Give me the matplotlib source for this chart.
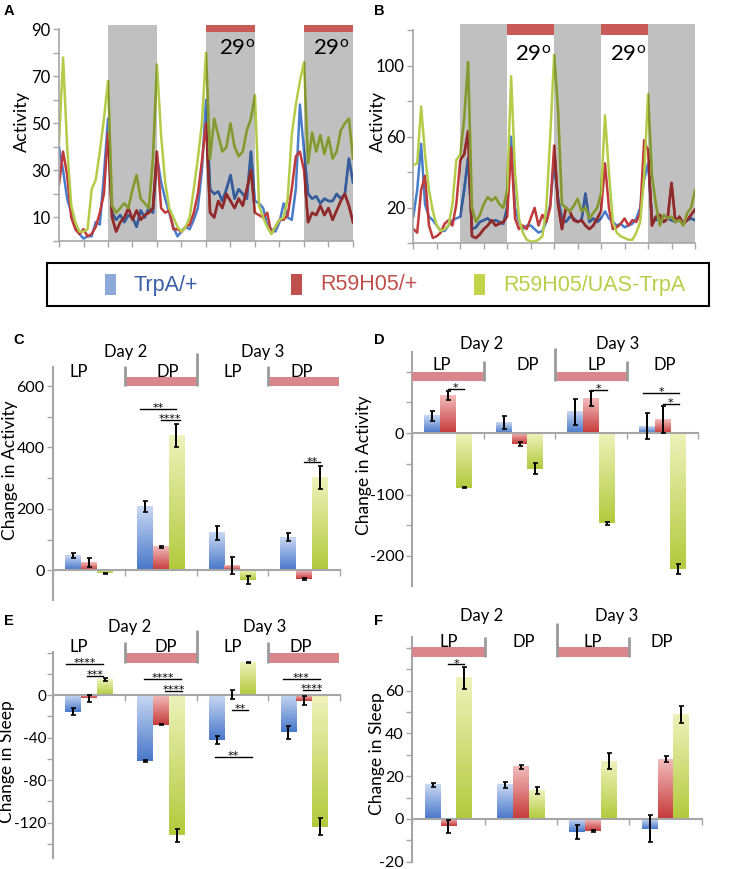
import numpy as np
import matplotlib
matplotlib.use('Agg')
import matplotlib.pyplot as plt
from matplotlib.colors import LinearSegmentedColormap, to_rgb
from matplotlib.patches import Rectangle

# ---------------- data ----------------
hours = list(range(73))

A_trpa = [40, 30, 18, 12, 6, 3, 1, 2, 2, 8, 7, 28, 52, 12, 9, 11, 8, 11, 10, 6, 13, 10, 14, 12,
          36, 25, 18, 12, 6, 2, 4, 6, 5, 9, 14, 30, 60,
          22, 20, 21, 17, 22, 28, 18, 22, 20, 18, 38, 17, 16, 14, 7, 5, 4, 8, 16, 10, 9, 22,
          58, 38, 20, 18, 19, 16, 18, 17, 17, 20, 18, 20, 35, 25]
A_r59 = [24, 38, 28, 10, 5, 3, 5, 2, 3, 6, 12, 20, 46, 10, 4, 8, 10, 14, 9, 13, 9, 11, 12, 14,
         38, 14, 12, 13, 5, 5, 4, 6, 7, 12, 20, 34, 50,
         12, 10, 17, 14, 20, 17, 14, 18, 15, 22, 30, 12, 11, 10, 12, 3, 6, 9, 9, 11, 22, 36,
         38, 30, 8, 12, 11, 15, 11, 14, 9, 13, 17, 20, 15, 8]
A_cross = [42, 78, 40, 15, 8, 4, 4, 5, 22, 26, 38, 52, 68, 15, 12, 14, 16, 14, 22, 28, 18, 16, 14, 35,
           75, 45, 25, 14, 10, 6, 4, 6, 10, 22, 35, 50, 80,
           35, 52, 45, 38, 40, 50, 40, 36, 38, 47, 52, 62, 15, 10, 6, 3, 6, 9, 10, 18, 45, 58,
           68, 76, 33, 46, 38, 45, 37, 44, 35, 38, 47, 50, 52, 35]

B_trpa = [15, 30, 56, 22, 15, 13, 10, 7, 7, 10, 13, 14, 15, 30, 48, 8, 9, 12, 13, 14, 12, 13, 12, 11,
          20, 60, 20, 12, 8, 10, 10, 8, 6, 7, 12, 22, 45,
          25, 14, 12, 15, 14, 12, 13, 28, 12, 14, 12, 14, 18, 14, 12, 10, 11, 9, 10, 11, 14, 20,
          36, 45, 14, 13, 14, 12, 14, 13, 12, 13, 12, 13, 14, 13]
B_r59 = [8, 6, 30, 38, 10, 3, 4, 6, 11, 13, 10, 22, 47, 50, 63, 4, 3, 5, 8, 10, 13, 10, 11, 12,
         15, 54, 14, 8, 10, 8, 14, 20, 10, 16, 12, 20, 55,
         22, 8, 20, 18, 13, 12, 13, 10, 8, 10, 14, 18, 45, 20, 8, 9, 11, 14, 10, 13, 12, 17,
         58, 52, 10, 15, 16, 12, 14, 34, 12, 15, 11, 13, 16, 19]
B_cross = [44, 45, 77, 50, 30, 18, 10, 7, 8, 10, 22, 47, 50, 70, 102, 20, 12, 16, 22, 26, 24, 26, 22, 20,
           30, 94, 40, 14, 6, 2, 1, 1, 2, 4, 20, 60, 106,
           75, 22, 20, 18, 21, 25, 18, 20, 14, 17, 20, 28, 72, 40, 12, 6, 4, 3, 2, 2, 6, 12,
           38, 84, 38, 22, 10, 16, 14, 15, 12, 13, 10, 17, 20, 30]

genotypes = ['TrpA/+', 'R59H05/+', 'R59H05/UAS-TrpA']
periods = ['Day 2 LP', 'Day 2 DP', 'Day 3 LP', 'Day 3 DP']

C_trpa = [47, 208, 121, 107];      C_trpa_err = [8, 18, 24, 13]
C_r59 = [26, 75, 16, -28];         C_r59_err = [15, 3, 27, 3]
C_cross = [-10, 438, -31, 302];    C_cross_err = [2, 38, 13, 39]

D_trpa = [28, 17, 35, 11];         D_trpa_err = [8, 11, 21, 21]
D_r59 = [61, -18, 56, 22];         D_r59_err = [7, 3, 12, 22]
D_cross = [-89, -58, -147, -221];  D_cross_err = [1, 9, 3, 8]

E_trpa = [-15.5, -62, -42, -35];   E_trpa_err = [3.5, 1, 4, 6]
E_r59 = [-3, -28, 0.5, -5];        E_r59_err = [3.3, 0.5, 4.3, 4]
E_cross = [14.5, -132, 31, -124];  E_cross_err = [1.5, 6, 0.5, 8]

F_trpa = [16, 16, -6, -4.5];       F_trpa_err = [1, 1.5, 3.4, 6.5]
F_r59 = [-3.4, 24.4, -5.6, 28];    F_r59_err = [3, 1, 0.5, 1.4]
F_cross = [66, 13.4, 27, 49];      F_cross_err = [5, 1.5, 3.7, 4]

# ---------------- style ----------------
plt.rcParams['font.family'] = ['Lato', 'DejaVu Sans']
plt.rcParams['mathtext.default'] = 'regular'

W, H = 739, 869
fig = plt.figure(figsize=(W / 100, H / 100), dpi=100)

AXG = '#a6a6a6'
SHADE = '#c0c0c0'
REDBAR = '#c85a58'
PINK = '#d9868d'
LINE_COLORS = ['#4a7ccc', '#bf3a3a', '#b4cc48']
GRAD = [('#c8d8f3', '#4877c9'), ('#f3bcbc', '#c63a3a'), ('#eef2bb', '#b2ca3c')]


def ax_at(x0, y0, x1, y1):
    return fig.add_axes([x0 / W, 1 - y1 / H, (x1 - x0) / W, (y1 - y0) / H])


def ftext(px, py, s, **kw):
    fig.text(px / W, 1 - py / H, s, **kw)


# ---------------- activity traces ----------------
def trace_panel(ax, series, ymax, spine_top, yticks, ylabels, red_spans, red_bottom,
                t29, t29_y):
    ax.set_xlim(0, 72)
    ax.set_ylim(0, ymax)
    gray = [(12, 24), (36, 48), (60, 72)]
    for a, b in gray:
        ax.axvspan(a, b, color=SHADE, lw=0, zorder=0)
    for a, b in red_spans:
        ax.axvspan(a, b, ymin=red_bottom / ymax, ymax=1, color=REDBAR, lw=0, zorder=1)
    for i, (vals, c) in enumerate(zip(series, LINE_COLORS)):
        ax.plot(hours, vals, color=c, lw=1.8, zorder=2 + i * 0.1, solid_joinstyle='round')
        dark = tuple(np.array(to_rgb(c)) * 0.74)
        for a, b in gray:
            ln, = ax.plot(hours, vals, color=dark, lw=1.8, zorder=2.05 + i * 0.1,
                          solid_joinstyle='round')
            clip = Rectangle((a, -50), b - a, 500, transform=ax.transData)
            ln.set_clip_path(clip)
    for xx in t29:
        ax.text(xx, t29_y, r'29$^{\mathregular{o}}$', ha='center', va='baseline',
                fontsize=16, zorder=5)
    for s in ['top', 'right']:
        ax.spines[s].set_visible(False)
    for s in ['left', 'bottom']:
        ax.spines[s].set_color(AXG)
        ax.spines[s].set_linewidth(1.2)
    ax.spines['left'].set_bounds(0, spine_top)
    ax.set_xticks(range(0, 73, 6))
    ax.set_xticklabels([])
    ax.set_yticks(yticks)
    ax.set_yticklabels([str(t) if t in ylabels else '' for t in yticks])
    ax.tick_params(axis='both', colors=AXG, length=4, width=1)
    ax.tick_params(axis='y', labelcolor='black', labelsize=12, pad=2)


axA = ax_at(59, 25, 353, 241)
trace_panel(axA, [A_trpa, A_r59, A_cross], 91.8, 90, list(range(0, 91, 10)),
            [10, 30, 50, 70, 90], [(36, 48), (60, 72)], 88.9, [43.5, 66.6], 79)
axB = ax_at(413.3, 24, 695, 243.3)
trace_panel(axB, [B_trpa, B_r59, B_cross], 123.4, 120, list(range(0, 121, 20)),
            [20, 60, 100], [(24, 36), (48, 60)], 117.2, [30.6, 54.9], 103)
ftext(22, 121, 'Activity', rotation=90, ha='center', va='center', fontsize=13)
ftext(378, 121, 'Activity', rotation=90, ha='center', va='center', fontsize=13)

# ---------------- legend ----------------
fig.patches.append(Rectangle((47 / W, 1 - 306 / H), 662 / W, 43 / H, transform=fig.transFigure,
                             fill=False, edgecolor='black', lw=1.5))
leg_sq = ['#8eaadb', '#c0504d', '#c4d44a']
leg_txt = ['#3b5ea8', '#c0504d', '#b9cf4c']
for name, sq_x, tx_x, sc, tc in zip(genotypes, [105, 291, 474], [134, 320, 503], leg_sq, leg_txt):
    fig.patches.append(Rectangle((sq_x / W, 1 - 295 / H), 11 / W, 21 / H,
                                 transform=fig.transFigure, color=sc, lw=0))
    ftext(tx_x, 285, name, ha='left', va='center', fontsize=15.5, color=tc,
          family=['Liberation Sans', 'DejaVu Sans'])


# ---------------- bar panels ----------------
def bar_panel(ax, vals, errs, ylim, yticks, ylabels, pad=2, lsize=11.5):
    centers = np.arange(4) + 0.5
    width = 0.22
    grad = np.linspace(0, 1, 128).reshape(-1, 1)
    for k, (v, e, (light, dark)) in enumerate(zip(vals, errs, GRAD)):
        xs = centers + (k - 1) * width
        bars = ax.bar(xs, v, width, color='none', edgecolor='none', zorder=2)
        cmap = LinearSegmentedColormap.from_list('g%d' % k, [dark, light])
        for r in bars:
            x0, w = r.get_x(), r.get_width()
            y0, h = r.get_y(), r.get_height()
            yb, yt = min(y0, y0 + h), max(y0, y0 + h)
            ax.imshow(grad, extent=[x0, x0 + w, yb, yt], origin='lower', cmap=cmap,
                      aspect='auto', zorder=2, interpolation='bilinear')
        ax.errorbar(xs, v, yerr=e, fmt='none', ecolor='black', elinewidth=1.4,
                    capsize=1.8, capthick=1.2, zorder=4)
    ax.set_xlim(0, 4)
    ax.set_ylim(*ylim)
    for s in ['top', 'right']:
        ax.spines[s].set_visible(False)
    ax.spines['bottom'].set_position(('data', 0))
    for s in ['left', 'bottom']:
        ax.spines[s].set_color(AXG)
        ax.spines[s].set_linewidth(1.5)
    ax.spines['bottom'].set_zorder(3)
    ax.set_xticks([0, 1, 2, 3, 4])
    ax.set_xticklabels([])
    ax.set_yticks(yticks)
    ax.set_yticklabels([str(t) if t in ylabels else '' for t in yticks])
    ax.tick_params(axis='both', colors=AXG, length=4, width=1)
    ax.tick_params(axis='y', labelcolor='black', labelsize=lsize, pad=pad)
    ax.patch.set_alpha(0)


def header(ax, day_y, per_y, per_x, day_x, pinks, pink_y, brk, sigs):
    for x, s in zip(day_x, ['Day 2', 'Day 3']):
        ax.text(x, day_y, s, ha='center', va='baseline', fontsize=12, clip_on=False)
    for x, s in zip(per_x, ['LP', 'DP', 'LP', 'DP']):
        ax.text(x, per_y, s, ha='center', va='baseline', fontsize=12, clip_on=False, zorder=6)
    for a, b in pinks:
        ax.add_patch(Rectangle((a, pink_y[0]), b - a, pink_y[1] - pink_y[0], color=PINK,
                               lw=0, clip_on=False, zorder=5))
    for x, top in brk:
        ax.plot([x, x], [pink_y[0], top], color='#9a9a9a', lw=2, clip_on=False, zorder=5,
                solid_capstyle='butt')
    for x0, x1, y, s in sigs:
        ax.plot([x0, x1], [y, y], color='black', lw=1, clip_on=False, zorder=6)
        ax.annotate(s, xy=((x0 + x1) / 2, y), xytext=(0, -1.5), textcoords='offset points',
                    ha='center', va='baseline', fontsize=8, family='DejaVu Sans',
                    annotation_clip=False, zorder=6)


axC = ax_at(53, 366.7, 340, 600)
bar_panel(axC, [C_trpa, C_r59, C_cross], [C_trpa_err, C_r59_err, C_cross_err], (-97, 663),
          list(range(0, 601, 100)), [0, 200, 400, 600])
header(axC, 696, 631, [0.36, 1.6, 2.51, 3.47], [1.01, 2.92], [(1, 2), (3, 3.98)], (601, 630),
       [(1, 665), (2, 707), (3, 665)],
       [(1.21, 1.72, 525, '**'), (1.5, 1.77, 490, '****'), (3.5, 3.72, 351, '**')])

axD = ax_at(412.3, 351.7, 698.3, 586)
bar_panel(axD, [D_trpa, D_r59, D_cross], [D_trpa_err, D_r59_err, D_cross_err], (-249, 132.6),
          list(range(-200, 101, 50)), [0, -100, -200])
header(axD, 137, 102.7, [0.41, 1.62, 2.58, 3.53], [0.97, 2.87], [(0, 1), (2, 3)], (84.8, 100),
       [(1, 117), (2, 138), (3, 117)],
       [(0.5, 0.72, 72, '*'), (2.5, 2.72, 71, '*'), (3.23, 3.73, 66, '*'), (3.5, 3.73, 48, '*')])

axE = ax_at(53.3, 651.7, 340, 857.7)
bar_panel(axE, [E_trpa, E_r59, E_cross], [E_trpa_err, E_r59_err, E_cross_err], (-153, 41),
          list(range(-140, 41, 20)), [0, -40, -80, -120], pad=1, lsize=11)
header(axE, 60, 41, [0.36, 1.57, 2.51, 3.45], [1.06, 2.95], [(1, 2), (3, 3.98)], (30.8, 40.2),
       [(1, 50.6), (2, 61.6), (3, 50.6)],
       [(0.18, 0.69, 29.2, '****'), (0.47, 0.70, 18.5, '***'),
        (1.27, 1.78, 15.1, '****'), (1.56, 1.8, 3.8, '****'),
        (2.5, 2.72, -13.5, '**'), (2.26, 2.77, -57.8, '**'),
        (3.2, 3.72, 15.4, '***'), (3.49, 3.72, 5.0, '****')])

axF = ax_at(412.3, 637.3, 701.7, 861.7)
bar_panel(axF, [F_trpa, F_r59, F_cross], [F_trpa_err, F_r59_err, F_cross_err], (-20, 85),
          list(range(-20, 81, 10)), [-20, 0, 20, 40, 60])
header(axF, 92.8, 80.6, [0.5, 1.54, 2.49, 3.45], [0.96, 2.83], [(0, 1), (2, 3)], (75.9, 80.3),
       [(1, 85.3), (2, 91.6), (3, 85.3)],
       [(0.5, 0.72, 72.3, '*')])

ftext(10, 470, 'Change in Activity', rotation=90, ha='center', va='center', fontsize=12.5)
ftext(364, 465, 'Change in Activity', rotation=90, ha='center', va='center', fontsize=12.5)
ftext(7, 762, 'Change in Sleep', rotation=90, ha='center', va='center', fontsize=12.5)
ftext(377, 754, 'Change in Sleep', rotation=90, ha='center', va='center', fontsize=12.5)

# panel letters
for s, x, y in [('A', 4, 4), ('B', 374, 4), ('C', 13, 333), ('D', 374, 333),
                ('E', 4, 614), ('F', 374, 614)]:
    ftext(x, y, s, ha='left', va='top', fontsize=10.5, fontweight='bold',
          family=['Liberation Sans', 'DejaVu Sans'])

fig.savefig('out.png', dpi=100)
